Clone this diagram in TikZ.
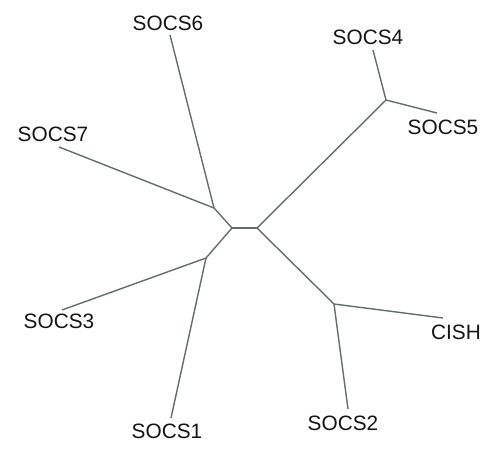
\documentclass[tikz,border=0pt]{standalone}
\usepackage{fontspec}
\setmainfont{Liberation Sans}
\definecolor{branch}{RGB}{100,110,105}
\definecolor{labeltxt}{RGB}{20,20,20}
\begin{document}
\begin{tikzpicture}[x=1pt,y=-1pt,
  edge/.style={draw=branch,line width=1.4pt},
  lbl/.style={inner sep=0pt,text=labeltxt,font=\fontsize{20.8}{21}\selectfont}]
\useasboundingbox (0,0) rectangle (493,450);
% internal nodes
\coordinate (c1) at (232,228);
\coordinate (c2) at (257,228);
\coordinate (j67) at (214,208);
\coordinate (j13) at (206,258);
\coordinate (j45) at (386,100);
\coordinate (jc2) at (334,304);
% leaf ends
\coordinate (l6) at (170,35);
\coordinate (l7) at (59,147);
\coordinate (l3) at (62,310);
\coordinate (l1) at (171,418);
\coordinate (l4) at (373,50);
\coordinate (l5) at (437,113);
\coordinate (lC) at (443,318);
\coordinate (l2) at (348,409);
% labels
\node[lbl] (t6) at (168,23) {SOCS6};
\node[lbl] (t7) at (53,134) {SOCS7};
\node[lbl] (t3) at (59,321) {SOCS3};
\node[lbl] (t1) at (167,431) {SOCS1};
\node[lbl] (t4) at (368,37) {SOCS4};
\node[lbl] (t5) at (443,127) {SOCS5};
\node[lbl] (tC) at (456,332) {CISH};
\node[lbl] (t2) at (343,423) {SOCS2};
% branches
\draw[edge] (c1) -- (c2);
\draw[edge] (c1) -- (j67);
\draw[edge] (c1) -- (j13);
\draw[edge] (c2) -- (j45);
\draw[edge] (c2) -- (jc2);
\draw[edge] (j67) -- (l6);
\draw[edge] (j67) -- (l7);
\draw[edge] (j13) -- (l3);
\draw[edge] (j13) -- (l1);
\draw[edge] (j45) -- (l4);
\draw[edge] (j45) -- (l5);
\draw[edge] (jc2) -- (lC);
\draw[edge] (jc2) -- (l2);
\end{tikzpicture}
\end{document}
